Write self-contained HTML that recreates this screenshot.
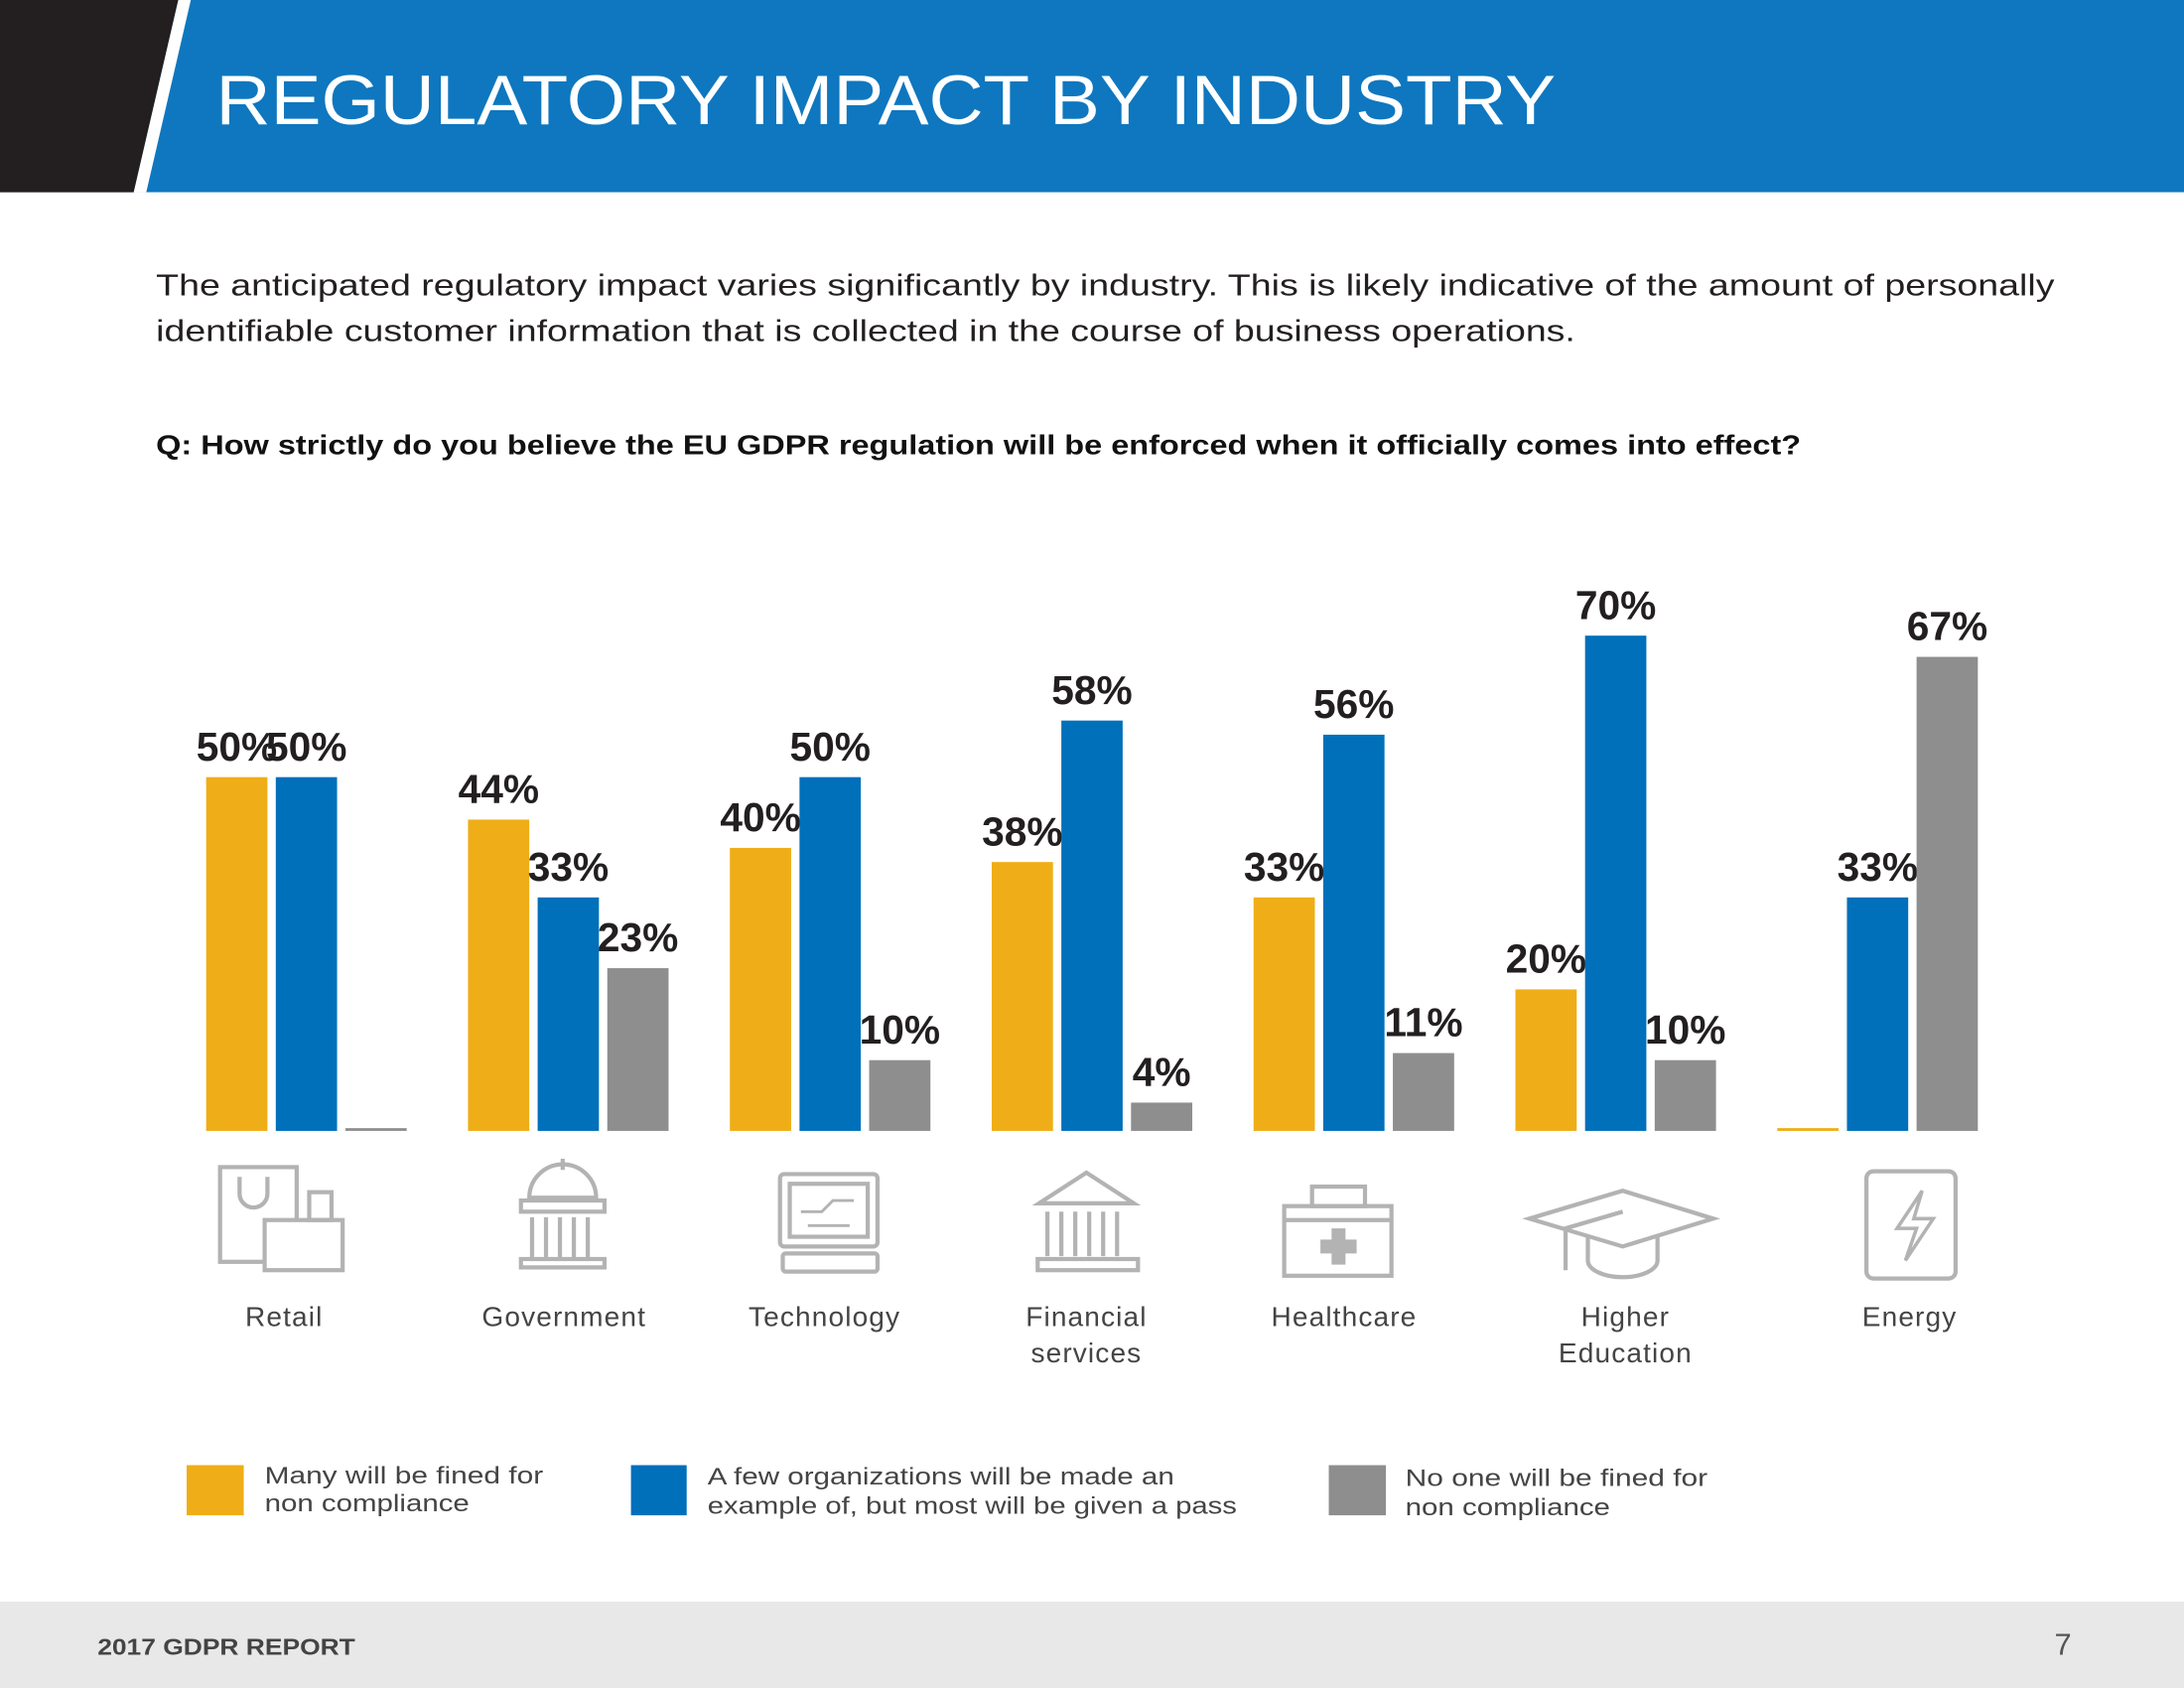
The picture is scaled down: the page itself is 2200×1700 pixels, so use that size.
<!DOCTYPE html>
<html><head><meta charset="utf-8">
<style>
html,body{margin:0;padding:0;background:#fff;}
svg{display:block;}
text{font-family:"Liberation Sans",sans-serif;}
</style></head>
<body>
<svg id="chart" width="2200" height="1700" viewBox="0 0 1568 1212" preserveAspectRatio="none" xmlns="http://www.w3.org/2000/svg">
  <rect x="0" y="0" width="1568" height="138" fill="#0E77BF"/>
  <polygon points="0,0 128,0 96,138 0,138" fill="#231F20"/>
  <polygon points="128,0 137,0 105,138 96,138" fill="#ffffff"/>
  <text x="155" y="89" font-size="50" fill="#fff" textLength="962" lengthAdjust="spacingAndGlyphs">REGULATORY IMPACT BY INDUSTRY</text>
  <text x="112" y="212" font-size="21.5" fill="#231F20" textLength="1363" lengthAdjust="spacingAndGlyphs">The anticipated regulatory impact varies significantly by industry. This is likely indicative of the amount of personally</text>
  <text x="112" y="245" font-size="21.5" fill="#231F20" textLength="1019" lengthAdjust="spacingAndGlyphs">identifiable customer information that is collected in the course of business operations.</text>
  <text x="112" y="326" font-size="19.5" font-weight="bold" fill="#111" textLength="1181" lengthAdjust="spacingAndGlyphs">Q: How strictly do you believe the EU GDPR regulation will be enforced when it officially comes into effect?</text>
  <g id="bars"></g>
  <g id="icons" fill="none" stroke="#b3b3b3" stroke-width="3">
    <g><rect x="158" y="838" width="55" height="68"/><path d="M172 845 v12 a10 10 0 0 0 20 0 v-12"/><rect x="190" y="876" width="56" height="36" fill="#fff"/><rect x="222" y="856" width="16" height="20"/></g>
    <g><path d="M380 860 a24 24 0 0 1 48 0 z"/><line x1="404" y1="832" x2="404" y2="840"/><rect x="374" y="862" width="60" height="8"/><path d="M382 874v30M392 874v30M402 874v30M412 874v30M422 874v30"/><rect x="374" y="904" width="60" height="6"/></g>
    <g><rect x="560" y="843" width="70" height="52" rx="3"/><rect x="567" y="850" width="56" height="38"/><rect x="562" y="900" width="68" height="13" rx="2"/><path d="M575 870h15l8-8h15M580 880h30" stroke-width="2"/></g>
    <g><path d="M746 864 L780 842 L814 864 z"/><path d="M752 870v32M762 870v32M772 870v32M782 870v32M792 870v32M802 870v32"/><rect x="745" y="904" width="72" height="8"/></g>
    <g><rect x="922" y="866" width="77" height="50"/><rect x="942" y="852" width="38" height="14"/><line x1="922" y1="876" x2="999" y2="876"/><path d="M956 882h10v8h8v10h-8v8h-10v-8h-8v-10h8z" fill="#b3b3b3" stroke="none"/></g>
    <g><path d="M1098 875 L1165 855 L1230 875 L1165 895 z"/><path d="M1140 887 v18 a25 12 0 0 0 50 0 v-18"/><path d="M1165 870 L1124 882 v30"/></g>
    <g><rect x="1340" y="841" width="64" height="77" rx="5"/><path d="M1380 855 L1362 882 L1376 882 L1368 905 L1388 875 L1374 875 Z" stroke-width="2.5"/></g>
  </g>
  <g id="cats"></g>
  <g>
    <rect x="134" y="1052" width="41" height="36" fill="#EFAE17"/>
    <text font-size="17" fill="#444"><tspan x="190" y="1065" textLength="200" lengthAdjust="spacingAndGlyphs">Many will be fined for</tspan><tspan x="190" y="1085" textLength="147" lengthAdjust="spacingAndGlyphs">non compliance</tspan></text>
    <rect x="453" y="1052" width="40" height="36" fill="#0070BA"/>
    <text font-size="17" fill="#444"><tspan x="508" y="1066" textLength="335" lengthAdjust="spacingAndGlyphs">A few organizations will be made an</tspan><tspan x="508" y="1087" textLength="380" lengthAdjust="spacingAndGlyphs">example of, but most will be given a pass</tspan></text>
    <rect x="954" y="1052" width="41" height="36" fill="#8E8E8E"/>
    <text font-size="17" fill="#444"><tspan x="1009" y="1067" textLength="217" lengthAdjust="spacingAndGlyphs">No one will be fined for</tspan><tspan x="1009" y="1088" textLength="147" lengthAdjust="spacingAndGlyphs">non compliance</tspan></text>
  </g>
  <rect x="0" y="1150" width="1568" height="62" fill="#E8E8E8"/>
  <text x="70" y="1188" font-size="16.5" font-weight="bold" fill="#444" textLength="185" lengthAdjust="spacingAndGlyphs">2017 GDPR REPORT</text>
  <text x="1475" y="1188" font-size="22" fill="#555">7</text>
</svg>
<script>
const categories = ["Retail","Government","Technology","Financial services","Healthcare","Higher Education","Energy"];
const catLines = [["Retail"],["Government"],["Technology"],["Financial","services"],["Healthcare"],["Higher","Education"],["Energy"]];
const manyFined = [50,44,40,38,33,20,0];
const fewExamples = [50,33,50,58,56,70,33];
const noOneFined = [0,23,10,4,11,10,67];
const seriesNames = ["many-fined","few-examples","no-one-fined"];
const seriesColors = ["#EFAE17","#0070BA","#8E8E8E"];

const NS = "http://www.w3.org/2000/svg";
const baseY = 812, pxPerPct = 5.08;
const groupStart = 148, groupStep = 188, barStep = 50, barW = 44;
const labelX = [204,405,592,780,965,1167,1371];
function yScale(v){ return baseY - v * pxPerPct; }
function xScale(ci, si){ return groupStart + ci * groupStep + si * barStep; }

const barsG = document.getElementById("bars");
const series = [manyFined, fewExamples, noOneFined];
series.forEach((vals, si) => {
  vals.forEach((v, ci) => {
    const x = xScale(ci, si);
    const top = yScale(v);
    const h = Math.max(baseY - top, 2);
    const r = document.createElementNS(NS, "rect");
    r.setAttribute("x", x);
    r.setAttribute("y", baseY - h);
    r.setAttribute("width", barW);
    r.setAttribute("height", h);
    r.setAttribute("fill", seriesColors[si]);
    
    
    barsG.appendChild(r);
    if (v > 0) {
      const t = document.createElementNS(NS, "text");
      t.setAttribute("x", x + barW / 2);
      t.setAttribute("y", top - 12);
      t.setAttribute("text-anchor", "middle");
      t.setAttribute("font-size", "29");
      t.setAttribute("font-weight", "bold");
      t.setAttribute("fill", "#231F20");
      t.textContent = v + "%";
      
      
      barsG.appendChild(t);
    }
  });
});

const catG = document.getElementById("cats");
catLines.forEach((lines, ci) => {
  const t = document.createElementNS(NS, "text");
  t.setAttribute("text-anchor", "middle");
  t.setAttribute("font-size", "20");
  t.setAttribute("fill", "#444");
  t.setAttribute("letter-spacing", "0.8");
  lines.forEach((ln, li) => {
    const s = document.createElementNS(NS, "tspan");
    s.setAttribute("x", labelX[ci]);
    s.setAttribute("y", 952 + li * 26);
    s.textContent = ln;
    t.appendChild(s);
  });
  
  
  catG.appendChild(t);
});
</script>
</body></html>
